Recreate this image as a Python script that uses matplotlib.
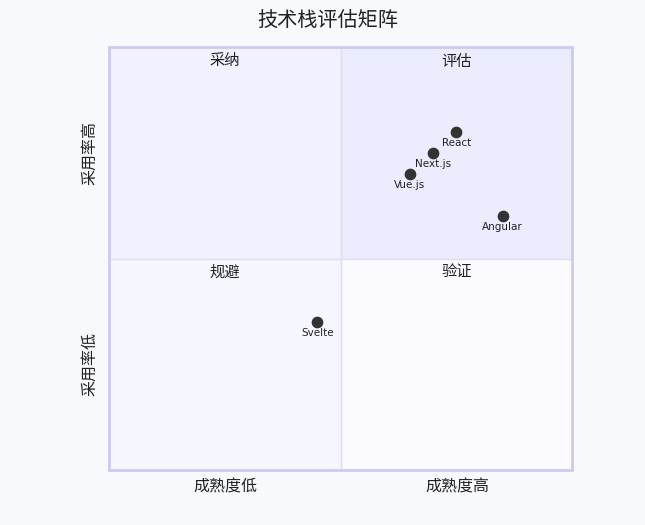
import matplotlib.pyplot as plt
from matplotlib.patches import Rectangle

plt.rcParams['font.family'] = ['Noto Sans CJK SC', 'DejaVu Sans']

title = '技术栈评估矩阵'
x_labels = ['成熟度低', '成熟度高']
y_labels = ['采用率低', '采用率高']
# quadrant names: top-right, top-left, bottom-left, bottom-right
quadrant_names = ['评估', '采纳', '规避', '验证']
quadrant_colors = ['#ececff', '#f1f1ff', '#f6f6ff', '#fbfbff']

names = ['React', 'Next.js', 'Vue.js', 'Angular', 'Svelte']
maturity = [0.75, 0.70, 0.65, 0.85, 0.45]
adoption = [0.80, 0.75, 0.70, 0.60, 0.35]

W, H = 645, 525
fig = plt.figure(figsize=(W / 100, H / 100), dpi=100)
fig.patch.set_facecolor('#f8f9fc')

left, right, top, bottom = 109, 572, 47, 470
ax = fig.add_axes([left / W, 1 - bottom / H, (right - left) / W, (bottom - top) / H])
ax.set_xlim(0, 1)
ax.set_ylim(0, 1)
ax.set_axis_off()

origins = [(0.5, 0.5), (0, 0.5), (0, 0), (0.5, 0)]
for (x0, y0), c in zip(origins, quadrant_colors):
    ax.add_patch(Rectangle((x0, y0), 0.5, 0.5, facecolor=c, edgecolor='none', zorder=0))

ax.plot([0.5, 0.5], [0, 1], color='#dcdcf5', lw=1, zorder=1)
ax.plot([0, 1], [0.5, 0.5], color='#dcdcf5', lw=1, zorder=1)
ax.add_patch(Rectangle((0, 0), 1, 1, facecolor='none', edgecolor='#cacaf2', lw=2, zorder=2,
                       clip_on=False))

for (x0, y0), name in zip(origins, quadrant_names):
    ax.text(x0 + 0.25, y0 + 0.5 - 0.013, name, ha='center', va='top', fontsize=11,
            color='#222222')

ax.scatter(maturity, adoption, s=55, color='#333333', zorder=3)
for n, x, y in zip(names, maturity, adoption):
    ax.annotate(n, (x, y), xytext=(0, -4.5), textcoords='offset points', ha='center', va='top',
                fontsize=7.5, color='#222222', family=['DejaVu Sans'])

fig.text(328 / W, 1 - 20 / H, title, ha='center', va='center', fontsize=14.5, color='#222222')
for lbl, px in zip(x_labels, [225, 457]):
    fig.text(px / W, 1 - 487 / H, lbl, ha='center', va='center', fontsize=11.5, color='#222222')
for lbl, py in zip(y_labels, [364, 153]):
    fig.text(90 / W, 1 - py / H, lbl, ha='center', va='center', rotation=90, fontsize=11.5,
             color='#222222')

fig.savefig('out.png', dpi=100, facecolor=fig.get_facecolor())
